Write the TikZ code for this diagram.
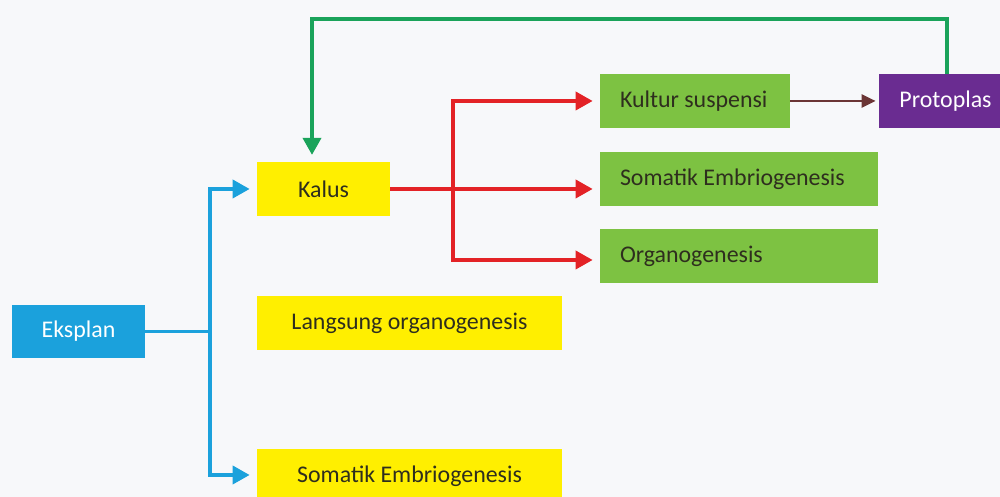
\documentclass[tikz,border=0pt]{standalone}
\usepackage{fontspec}
\setmainfont{Carlito}
\usetikzlibrary{arrows.meta}
\definecolor{bgc}{HTML}{F7F8FA}
\definecolor{eksblue}{HTML}{1BA1DC}
\definecolor{kyellow}{HTML}{FFEF00}
\definecolor{kgreen}{HTML}{7DC242}
\definecolor{kpurple}{HTML}{6A2C91}
\definecolor{kred}{HTML}{E32226}
\definecolor{kbrown}{HTML}{6B3535}
\definecolor{kgreenline}{HTML}{1AA35A}
\definecolor{ktext}{HTML}{2E2E1E}
\begin{document}
\begin{tikzpicture}[
  box/.style={rectangle, fill=#1, minimum height=1.07cm, inner sep=0pt,
              font=\fontsize{13.6}{16}\selectfont, text=ktext},
  box/.default={kyellow},
  gbox/.style={box=kgreen, inner xsep=0.4cm, text width=#1, align=flush left},
  arr/.style={-{Triangle[length=0.34cm,width=0.36cm]}, line width=2.1pt,
              shorten >=0.14cm, draw=#1},
  link/.style={line width=2.1pt, draw=#1}
]
  \fill[bgc] (0,0) rectangle (20,9.94);
  \useasboundingbox (0,0) rectangle (20,9.94);

  \node[box=eksblue, minimum width=2.66cm, text=white] (eksplan) at (1.57,3.31) {Eksplan};
  \node[box, minimum width=2.66cm] (kalus) at (6.47,6.16) {Kalus};
  \node[box, minimum width=6.1cm] (langsung) at (8.19,3.48) {Langsung organogenesis};
  \node[box, minimum width=6.1cm] (somay) at (8.19,0.42) {Somatik Embriogenesis};
  \node[gbox=3cm] (kultur) at (13.9,7.92) {Kultur suspensi};
  \node[gbox=4.76cm] (somag) at (14.78,6.36) {Somatik Embriogenesis};
  \node[gbox=4.76cm] (organo) at (14.78,4.82) {Organogenesis};
  \node[box=kpurple, minimum width=2.66cm, text=white] (protoplas) at (18.91,7.92) {Protoplas};

  \coordinate (bj) at (4.2,3.31);
  \coordinate (rj) at (9.06,6.16);
  \coordinate (gtop) at (6.24,9.56);

  % Eksplan
  \draw[link=eksblue] (eksplan) -- (bj);
  \draw[arr=eksblue] (bj) |- (kalus);
  \draw[arr=eksblue] (bj) |- ([yshift=0.02cm]somay.west);

  % Kalus
  \draw[arr=kred] (kalus.east) -- (kalus.east -| somag.west);
  \draw[arr=kred] (rj) |- (kultur);
  \draw[arr=kred] (rj) |- ([yshift=-0.08cm]organo.west);

  % Protoplas
  \draw[-{Triangle[length=0.28cm,width=0.26cm]}, line width=1.5pt, draw=kbrown,
        shorten >=0.06cm] (kultur) -- (protoplas);
  \draw[arr=kgreenline] ([xshift=0.03cm]protoplas.north) |- (gtop) -- (gtop |- kalus.north);
\end{tikzpicture}
\end{document}
